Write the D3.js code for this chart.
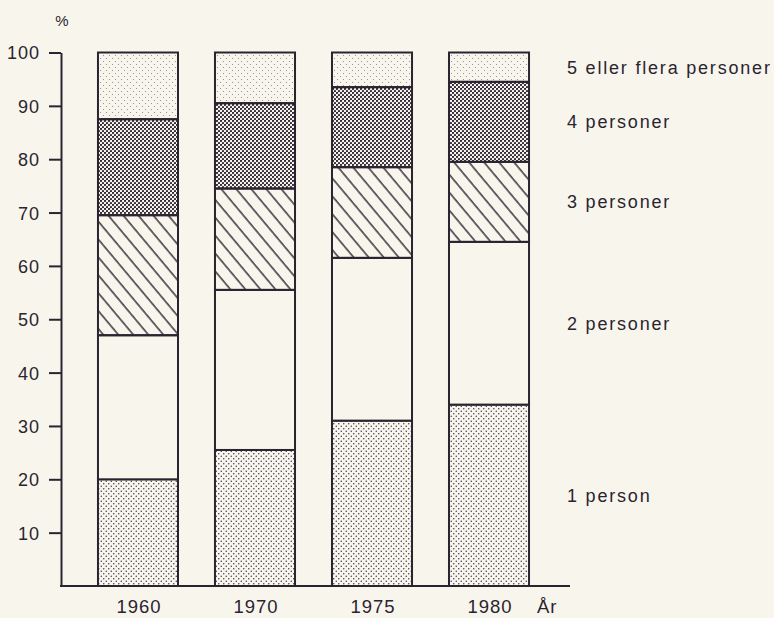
<!DOCTYPE html>
<html lang="sv">
    <head>
        <meta charset="utf-8">
        <title>Hushåll efter storlek</title>
        <script src="https://d3js.org/d3.v7.min.js"></script>
        <style>
            html, body { margin: 0; padding: 0; background: #f8f6ec; }
        </style>
    </head>

    <body>
        <div id="vis"></div>

        <script>

            // andel hushåll (%) per år och hushållsstorlek
            const years = ["1960", "1970", "1975", "1980"];
            const categories = ["1 person", "2 personer", "3 personer", "4 personer", "5 eller flera personer"];
            const p1 = [20, 25.5, 31, 34];
            const p2 = [27, 30, 30.5, 30.5];
            const p3 = [22.5, 19, 17, 15];
            const p4 = [18, 16, 15, 15];
            const p5 = [12.5, 9.5, 6.5, 5.5];
            const yTicks = [10, 20, 30, 40, 50, 60, 70, 80, 90, 100];

            const width = 774;
            const height = 618;
            const ink = "#2a2430";
            const font = "Liberation Sans, Arimo, Arial, Helvetica, sans-serif";

            const svg = d3.select("#vis")
                    .append("svg")
                    .attr('width', width)
                    .attr('height', height)
                    .style('display', 'block');

            // table for d3.stack
            const series = [p1, p2, p3, p4, p5];
            const table = years.map(function(y, i){
                const row = { year: y };
                categories.forEach(function(c, k){ row[c] = series[k][i]; });
                return row;
            });
            const stacked = d3.stack().keys(categories)(table);

            // patterns
            const defs = svg.append('defs');

            function dots(id, size, r, color){
                const p = defs.append('pattern')
                    .attr('id', id)
                    .attr('patternUnits', 'userSpaceOnUse')
                    .attr('width', size)
                    .attr('height', size);
                p.append('circle').attr('cx', size / 4).attr('cy', size / 4).attr('r', r).attr('fill', color);
                p.append('circle').attr('cx', 3 * size / 4).attr('cy', 3 * size / 4).attr('r', r).attr('fill', color);
            }
            dots('pat1', 5, 0.75, '#3e3552');
            dots('pat4', 4, 1.12, '#2a2030');
            dots('pat5', 6, 0.6, '#8a8290');

            const hatch = defs.append('pattern')
                .attr('id', 'pat3')
                .attr('patternUnits', 'userSpaceOnUse')
                .attr('width', 11.5)
                .attr('height', 10)
                .attr('patternTransform', 'rotate(-40)');
            hatch.append('line')
                .attr('x1', 2).attr('y1', -1).attr('x2', 2).attr('y2', 11)
                .attr('stroke', ink).attr('stroke-width', 1.4);

            const fills = ['url(#pat1)', '#f8f6ec', 'url(#pat3)', 'url(#pat4)', 'url(#pat5)'];

            // scales
            const yScale = d3.scaleLinear()
                    .domain([0, 100])
                    .range([586, 52.5]);

            const xScale = d3.scaleBand()
                    .domain(years)
                    .range([61, 566])
                    .padding(0.316);

            // bars
            const layers = svg.append('g')
                .selectAll('g')
                .data(stacked)
                .enter()
                .append('g');

            layers.selectAll('rect')
                .data(function(d, k){ return d.map(function(v){ return { v: v, k: k }; }); })
                .enter()
                .append('rect')
                    .attr('x', function(d){ return xScale(d.v.data.year); })
                    .attr('y', function(d){ return yScale(d.v[1]); })
                    .attr('width', xScale.bandwidth())
                    .attr('height', function(d){ return yScale(d.v[0]) - yScale(d.v[1]); })
                    .attr('fill', function(d){ return fills[d.k]; })
                    .attr('stroke', ink)
                    .attr('stroke-width', 2);

            // y axis
            const yAxis = svg.append('g')
                .attr('transform', 'translate(61, 0)')
                .call(d3.axisLeft(yScale).tickValues(yTicks).tickSize(12).tickSizeOuter(0).tickPadding(9));
            yAxis.select('.domain').attr('stroke', ink).attr('stroke-width', 2);
            yAxis.selectAll('.tick line').attr('stroke', ink).attr('stroke-width', 2);
            yAxis.selectAll('.tick text')
                .attr('fill', ink)
                .attr('dy', '0.36em')
                .style('font-family', font)
                .style('font-size', '18px')
                .style('letter-spacing', '1px');

            svg.append('text')
                .attr('x', 62)
                .attr('y', 26)
                .attr('text-anchor', 'middle')
                .attr('fill', ink)
                .style('font-family', font)
                .style('font-size', '15px')
                .text('%');

            // baseline
            svg.append('line')
                .attr('x1', 60).attr('x2', 570)
                .attr('y1', yScale(0)).attr('y2', yScale(0))
                .attr('stroke', ink).attr('stroke-width', 2);

            // x labels
            svg.append('g')
                .selectAll('text')
                .data(years)
                .enter()
                .append('text')
                    .attr('x', function(d){ return xScale(d) + xScale.bandwidth() / 2 + 1; })
                    .attr('y', 613)
                    .attr('text-anchor', 'middle')
                    .attr('fill', ink)
                    .style('font-family', font)
                    .style('font-size', '18.5px')
                    .style('letter-spacing', '1px')
                    .text(function(d){ return d; });

            svg.append('text')
                .attr('x', 537)
                .attr('y', 613)
                .attr('fill', ink)
                .style('font-family', font)
                .style('font-size', '18.5px')
                .style('letter-spacing', '1px')
                .text('År');

            // category labels beside last bar
            const last = years.length - 1;
            svg.append('g')
                .selectAll('text')
                .data(stacked)
                .enter()
                .append('text')
                    .attr('x', 567)
                    .attr('y', function(d){ return yScale((d[last][0] + d[last][1]) / 2); })
                    .attr('dy', '0.36em')
                    .attr('fill', ink)
                    .style('font-family', font)
                    .style('font-size', '18px')
                    .style('letter-spacing', '1.8px')
                    .text(function(d){ return d.key; });

        </script>
    </body>
</html>
